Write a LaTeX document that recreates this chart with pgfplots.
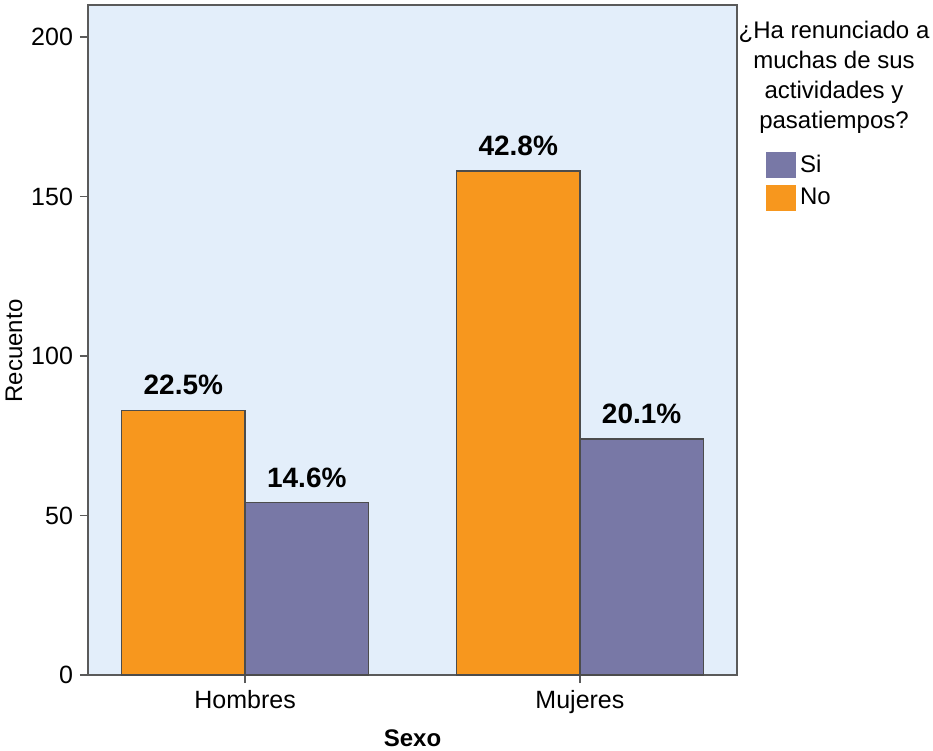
\documentclass[border=0pt]{standalone}
\usepackage{fontspec}
\setmainfont{Liberation Sans}
\usepackage{pgfplots}
\pgfplotsset{compat=1.18}
\definecolor{cNo}{HTML}{F7971E}
\definecolor{cSi}{HTML}{7878A6}
\definecolor{bgc}{HTML}{E3EEFA}
\definecolor{framec}{HTML}{5A5A5A}
\begin{document}
\begin{tikzpicture}
\begin{axis}[
  scale only axis, width=324.5pt, height=335pt,
  xmin=-0.469, xmax=1.469, ymin=0, ymax=210,
  axis background/.style={fill=bgc},
  axis line style={framec, line width=1pt},
  xtick={0,1}, xticklabels={Hombres,Mujeres},
  ytick={0,50,100,150,200},
  tick align=outside, tick pos=left,
  major tick length=4pt,
  tick style={framec, line width=0.8pt},
  ticklabel style={font=\fontsize{12.5}{14}\selectfont, text=black},
  /pgf/number format/assume math mode=true,
  reverse legend,
  legend style={draw=none, fill=none, at={(rel axis cs:1,1)}, anchor=north west,
    xshift=14.5pt, yshift=-73pt, font=\fontsize{12}{14}\selectfont,
    inner sep=0pt, outer sep=0pt, row sep=2.5pt,
    /tikz/every even column/.append style={column sep=6pt}},
  legend cell align=left,
  legend image code/.code={\path[#1,draw=none] (0pt,-6.5pt) rectangle (15pt,6.5pt);},
  nodes near coords={\pgfmathprintnumber[fixed,fixed zerofill,precision=1]{\pgfplotspointmeta}\%},
  nodes near coords style={font=\fontsize{14}{16}\selectfont\bfseries, text=black, yshift=4pt},
  point meta=explicit,
]
\addplot[ybar, bar width=0.3687, bar shift=0pt, fill=cNo, draw=black!70, line width=0.6pt]
  table[meta=p] {
x y p
-0.18435 83 22.5
0.81565 158 42.8
};
\addlegendentry{No}
\addplot[ybar, bar width=0.3687, bar shift=0pt, fill=cSi, draw=black!70, line width=0.6pt]
  table[meta=p] {
x y p
0.18435 54 14.6
1.18435 74 20.1
};
\addlegendentry{Si}
\coordinate (ll) at (rel axis cs:0,0);
\coordinate (ur) at (rel axis cs:1,1);
\end{axis}
\node[rotate=90, font=\fontsize{12}{14}\selectfont] at ([xshift=-37pt,yshift=162pt]ll) {Recuento};
\node[anchor=north, inner sep=0pt, font=\fontsize{12}{14}\selectfont\bfseries] at ([xshift=162.25pt,yshift=-27pt]ll) {Sexo};
\node[anchor=north, inner sep=0pt, align=center, font=\fontsize{12}{15}\selectfont] at ([xshift=48.5pt,yshift=-7.7pt]ur) {¿Ha renunciado a\\muchas de sus\\actividades y\\pasatiempos?};
\pgfresetboundingbox
\path ([shift={(-44pt,-37.5pt)}]ll) rectangle ([shift={(98pt,2.5pt)}]ur);
\end{tikzpicture}
\end{document}
